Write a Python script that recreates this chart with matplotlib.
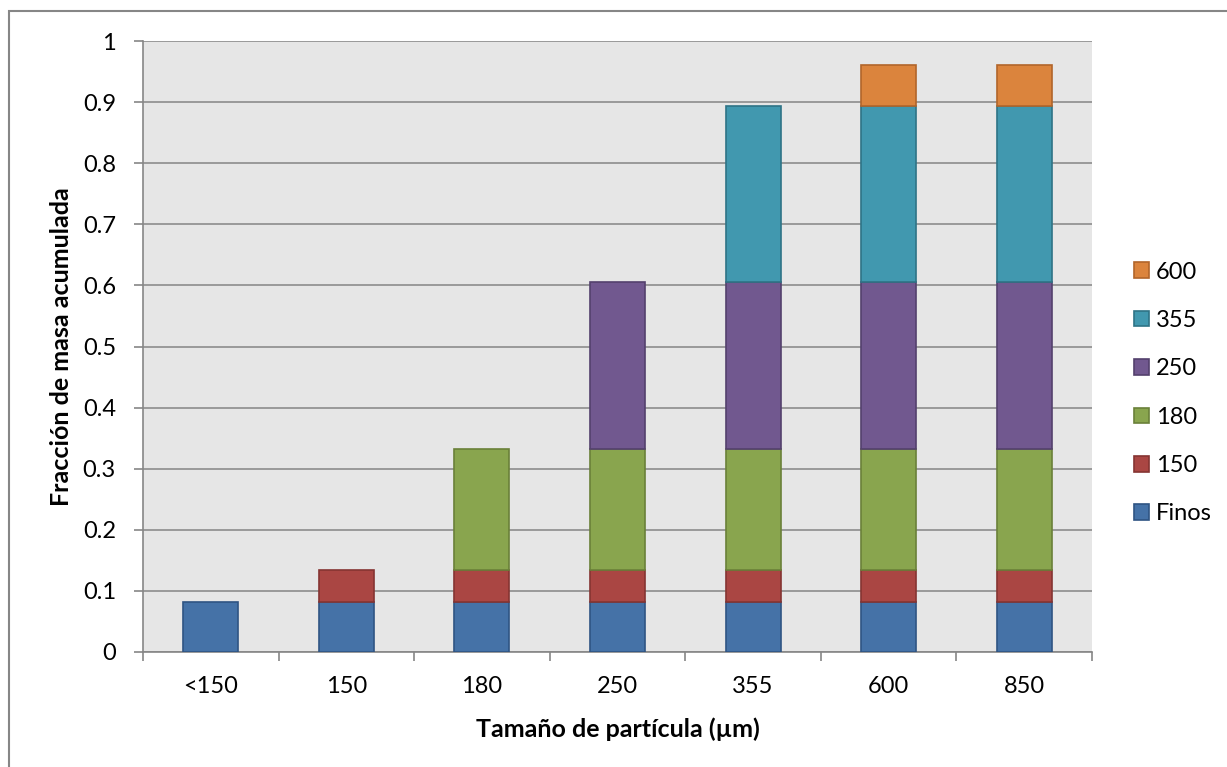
import matplotlib
matplotlib.use("Agg")
import matplotlib.pyplot as plt
from matplotlib.patches import Rectangle
import numpy as np

plt.rcParams['font.family'] = ['Lato', 'DejaVu Sans']

# Categories on the x axis (particle size, µm)
categories = ["<150", "150", "180", "250", "355", "600", "850"]

# Mass fraction contributed by each sieve fraction, per cumulative bar
series_names = ["Finos", "150", "180", "250", "355", "600"]
finos = [0.082, 0.082, 0.082, 0.082, 0.082, 0.082, 0.082]
s150 = [0.0, 0.053, 0.053, 0.053, 0.053, 0.053, 0.053]
s180 = [0.0, 0.0, 0.198, 0.198, 0.198, 0.198, 0.198]
s250 = [0.0, 0.0, 0.0, 0.272, 0.272, 0.272, 0.272]
s355 = [0.0, 0.0, 0.0, 0.0, 0.289, 0.289, 0.289]
s600 = [0.0, 0.0, 0.0, 0.0, 0.0, 0.066, 0.066]

y_ticks = [0, 0.1, 0.2, 0.3, 0.4, 0.5, 0.6, 0.7, 0.8, 0.9, 1]
y_tick_labels = ["0", "0.1", "0.2", "0.3", "0.4", "0.5", "0.6", "0.7", "0.8", "0.9", "1"]

faces = ["#4572A7", "#AA4643", "#89A54E", "#71588F", "#4198AF", "#DB843D"]
edges = ["#2F5483", "#853432", "#6A8039", "#54416D", "#2E7386", "#B2652A"]

W, H = 1227, 767
fig = plt.figure(figsize=(W / 100, H / 100), dpi=100)
ax = fig.add_axes([143 / W, 1 - 652 / H, (1092 - 143) / W, (652 - 41) / H])
ax.set_facecolor("#E6E6E6")

x = np.arange(len(categories))
bottom = np.zeros(len(categories))
handles = []
for name, vals, fc, ec in zip(series_names, [finos, s150, s180, s250, s355, s600], faces, edges):
    vals = np.array(vals)
    mask = vals > 0
    bars = ax.bar(x[mask], vals[mask], width=0.405, bottom=bottom[mask],
                  color=fc, edgecolor=ec, linewidth=1.2, label=name, zorder=3)
    handles.append(bars)
    bottom = bottom + vals

ax.set_xlim(-0.5, len(categories) - 0.5)
ax.set_ylim(0, 1)
ax.set_yticks(y_ticks)
ax.set_yticklabels(y_tick_labels)
ax.set_xticks(x)
ax.set_xticklabels(categories)
ax.set_xticks(np.arange(-0.5, len(categories)), minor=True)
ax.tick_params(axis='x', which='major', length=0, pad=17, labelsize=17)
ax.tick_params(axis='x', which='minor', length=6.5, color="#868686", width=1.2)
ax.tick_params(axis='y', length=6.5, color="#868686", width=1.2, labelsize=17, pad=13)
ax.yaxis.grid(True, color="#8C8C8C", linewidth=1.2, zorder=0)
ax.set_axisbelow(True)
for side in ["top", "right"]:
    ax.spines[side].set_visible(False)
for side in ["left", "bottom"]:
    ax.spines[side].set_color("#868686")
    ax.spines[side].set_linewidth(1.2)

ax.set_xlabel("Tamaño de partícula (µm)", fontsize=18, fontweight='bold', labelpad=15)
ax.set_ylabel("Fracción de masa acumulada", fontsize=18, fontweight='bold', labelpad=7)

leg = fig.legend(handles[::-1], series_names[::-1], loc='center left',
                 bbox_to_anchor=(1134 / W, 1 - 393 / H), frameon=False,
                 fontsize=17, handlelength=0.64, handleheight=0.64, handletextpad=0.3,
                 labelspacing=1.16, borderpad=0, borderaxespad=0)

# Outer chart border
fig.patches.append(Rectangle((9 / W, -0.1), 1.2, 1 - 11 / H + 0.1,
                             transform=fig.transFigure, fill=False,
                             edgecolor="#868686", linewidth=1.5))

fig.savefig("out.png", dpi=100)
